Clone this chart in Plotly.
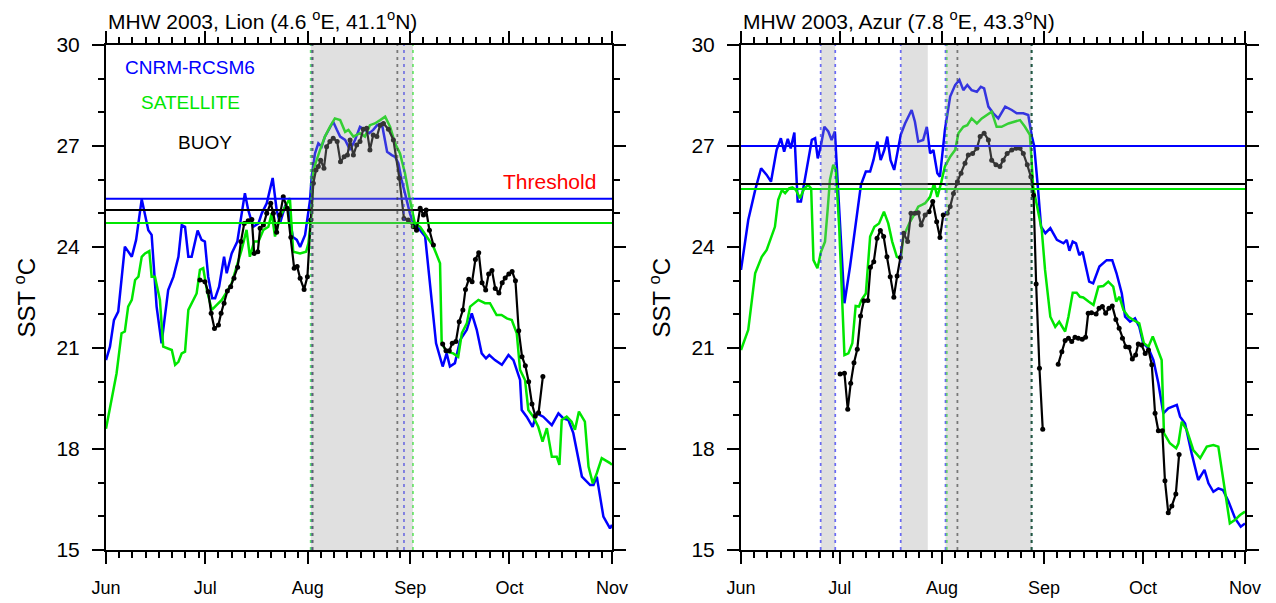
import plotly.graph_objects as go
from plotly.subplots import make_subplots

# x axis: days since 1 June 2003
months = ["Jun", "Jul", "Aug", "Sep", "Oct", "Nov"]
month_start = [0, 30, 61, 92, 122, 153]
sst_ticks = [15, 18, 21, 24, 27, 30]

# ---- Lion (4.6E, 41.1N) ----
lion_model_day = [0, 1.2, 2.4, 3.7, 5.7, 7.8, 9.1, 10.8, 12.8, 13.8,
                  15.3, 16.8, 18.8, 20.4, 21.9, 22.9, 23.9, 24.9, 25.9, 27.7,
                  28.9, 29.9, 30.9, 32.1, 33.0, 34.2, 35.7, 36.5, 38.0, 39.7,
                  42.0, 43.0, 44.5, 46.1, 47.1, 48.6, 50.4, 51.6, 52.6, 54.1,
                  55.1, 56.5, 57.7, 58.7, 60.2, 61.7, 62.2, 63.2, 64.2, 65.2,
                  66.2, 67.7, 68.7, 69.8, 70.8, 72.3, 73.8, 75.3, 76.8, 78.3,
                  79.6, 80.8, 82.0, 83.4, 84.4, 85.0, 86.4, 87.4, 88.4, 89.4,
                  90.9, 91.9, 92.9, 95.0, 96.5, 98.0, 99.8, 101.8, 103.0, 104.0,
                  105.5, 107.1, 109.1, 110.6, 112.1, 113.6, 114.9, 115.9, 117.6, 119.7,
                  121.7, 123.2, 125.2, 125.7, 127.2, 129.0, 130.2, 132.2, 134.8, 136.8,
                  138.3, 139.8, 141.3, 143.9, 146.4, 147.4, 148.4, 150.4, 152.4, 153]
lion_model_sst = [20.64, 21.04, 21.83, 22.08, 24.01, 23.71, 24.21, 25.42, 24.5, 24.36,
                  22.23, 21.14, 22.72, 23.12, 23.71, 24.65, 24.6, 23.71, 23.71, 24.49,
                  24.21, 24.16, 23.12, 22.48, 22.48, 22.82, 23.71, 23.22, 23.81, 24.16,
                  25.6, 25.1, 24.6, 24.7, 25.0, 25.3, 26.05, 25.1, 24.7, 25.2,
                  25.1, 24.3, 24.21, 24.0, 24.36, 25.4, 26.1, 26.78, 27.08, 26.98,
                  27.28, 27.57, 27.72, 27.48, 27.28, 27.18, 26.88, 27.18, 27.57, 27.48,
                  27.38, 27.48, 27.62, 27.67, 27.18, 26.83, 26.73, 26.68, 26.49, 25.99,
                  25.4, 25.0, 24.7, 24.5, 24.31, 22.92, 21.14, 20.45, 20.84, 20.45,
                  20.55, 21.24, 21.54, 22.03, 21.54, 20.84, 20.69, 20.79, 20.64, 20.5,
                  20.79, 20.64, 20.05, 19.16, 18.96, 18.66, 19.06, 18.96, 18.71, 19.06,
                  18.91, 18.86, 18.47, 17.18, 16.93, 16.93, 17.18, 15.99, 15.64, 15.75]

lion_sat_day = [0, 1.8, 3.2, 4.7, 5.7, 6.7, 7.8, 8.8, 9.8, 10.8,
                11.8, 13.1, 13.8, 14.8, 16.3, 17.3, 18.8, 19.9, 20.9, 21.9,
                22.9, 23.9, 24.9, 25.9, 27.4, 28.4, 29.4, 30.5, 32.0, 33.5,
                35.0, 36.5, 38.0, 39.5, 41.0, 42.5, 43.5, 44.8, 46.1, 47.6,
                49.1, 50.1, 51.1, 52.6, 54.1, 55.6, 56.6, 58.7, 60.5, 61.2,
                62.2, 62.7, 64.7, 66.2, 67.7, 69.2, 70.8, 72.3, 73.3, 74.8,
                76.8, 78.3, 79.8, 81.3, 82.9, 84.4, 85.9, 87.4, 88.9, 90.4,
                91.9, 93.4, 95.0, 97.0, 99.0, 101.0, 101.5, 103.0, 105.0, 106.5,
                107.6, 109.1, 110.1, 112.6, 114.6, 116.1, 118.1, 119.6, 121.2, 122.7,
                124.2, 125.2, 126.7, 127.7, 129.2, 130.7, 132.0, 133.3, 134.8, 136.3,
                137.1, 137.8, 139.3, 140.8, 141.8, 143.0, 144.8, 145.9, 147.2, 148.4,
                149.9, 152.4, 153]
lion_sat_sst = [18.6, 19.5, 20.25, 21.44, 21.49, 22.23, 22.43, 23.02, 23.12, 23.71,
                23.81, 23.88, 23.12, 23.12, 22.43, 21.04, 20.99, 20.94, 20.5, 20.59,
                20.84, 20.89, 22.13, 22.33, 22.62, 23.32, 23.37, 22.72, 22.13, 22.28,
                22.43, 22.67, 22.92, 23.42, 23.91, 24.51, 23.71, 24.16, 24.16, 24.51,
                24.6, 25.0, 24.31, 24.9, 25.2, 25.45, 23.86, 23.81, 23.86, 24.11,
                25.0, 26.29, 26.88, 27.28, 27.57, 27.82, 27.77, 27.42, 27.48, 27.28,
                27.38, 27.28, 27.62, 27.67, 27.77, 27.87, 27.57, 27.08, 26.78, 26.19,
                25.4, 24.7, 24.6, 24.31, 24.01, 23.52, 21.14, 20.89, 20.84, 20.74,
                21.44, 21.73, 22.23, 22.43, 22.33, 22.33, 21.98, 21.98, 21.88, 21.83,
                21.44, 20.35, 20.05, 19.16, 18.96, 18.66, 18.22, 18.62, 17.77, 17.77,
                17.53, 18.86, 18.96, 18.81, 18.57, 19.11, 18.81, 17.48, 16.98, 17.28,
                17.73, 17.58, 17.53]

lion_buoy_day = [28.4, 29.9, 30.9, 31.8, 32.8, 34.0, 34.8, 35.7, 36.7, 37.7,
                 38.7, 39.8, 40.8, 41.8, 43.0, 44.1, 44.8, 45.9, 46.6, 47.6,
                 48.6, 49.8, 50.6, 51.6, 52.6, 53.6, 54.8, 55.9, 56.9, 57.8,
                 58.7, 59.9, 60.9, 61.9, 62.7, 63.5, 64.2, 64.9, 65.9, 66.7,
                 67.7, 68.7, 69.9, 70.9, 72.0, 73.0, 73.8, 74.8, 75.8, 76.8,
                 77.8, 78.8, 79.8, 80.8, 81.9, 82.9, 83.9, 85.4, 86.9, 88.7,
                 90.1, 91.4, 92.9, 93.9, 95.0, 96.0, 96.8, 97.8, 99.0, 100.4,
                 101.8, 102.8, 103.8, 104.7, 105.8, 106.8, 107.9, 108.7, 109.7, 110.7,
                 111.7, 112.7, 113.7, 114.8, 115.7, 116.7, 117.7, 118.8, 119.8, 120.7,
                 121.8, 122.8, 123.8, 124.8, 125.8, 126.8, 127.8, 128.8, 129.8, 130.8,
                 132.1]
lion_buoy_sst = [23.02, 22.97, 22.67, 22.03, 21.58, 21.68, 22.03, 22.33, 22.69, 22.82,
                 23.07, 23.40, 24.16, 24.70, 24.78, 24.82, 23.81, 23.86, 24.56, 24.65,
                 25.0, 25.30, 25.0, 24.44, 24.95, 25.49, 25.15, 24.29, 23.37, 23.42,
                 23.07, 22.74, 23.12, 24.80, 25.89, 26.29, 26.39, 26.58, 26.34, 26.98,
                 27.13, 27.23, 27.13, 26.53, 26.68, 26.73, 27.18, 26.73, 27.03, 27.13,
                 27.50, 27.53, 26.88, 27.33, 27.28, 27.62, 27.67, 27.5, 27.18, 26.04,
                 24.85, 24.80, 24.6, 24.5, 25.15, 24.95, 25.1, 24.5, 24.06, None,
                 21.12, 20.92, 20.92, 21.14, 21.19, 21.78, 22.13, 22.74, 23.04, 22.97,
                 23.63, 23.83, 22.94, 22.72, 23.2, 23.3, 22.77, 22.63, 22.94, 23.08,
                 23.2, 23.27, 23.0, 21.51, 20.74, 20.47, 20.0, 19.34, 18.98, 19.08,
                 20.15]

lion_threshold = {"model": 25.43, "sat": 24.71, "buoy": 25.10}
# heat-wave event edges (days) and shaded periods
lion_lines = {"sat": [61.9, 92.8], "buoy": [62.5, 88.1], "model": [62.2, 90.1]}
lion_shade = [(61.9, 92.8)]

# ---- Azur (7.8E, 43.3N) ----
azur_model_day = [0, 2.2, 4.3, 6.1, 7.8, 9.1, 10.8, 12.1, 13.1, 14.2,
                  15.1, 16.2, 17.2, 18.2, 19.9, 21.5, 22.5, 23.3, 24.3, 25.3,
                  26.5, 27.5, 28.5, 29.5, 31.4, 33.1, 34.6, 36.4, 37.9, 39.2,
                  40.2, 41.4, 42.4, 43.5, 44.4, 45.4, 46.5, 47.8, 48.5, 49.8,
                  51.8, 52.8, 53.8, 55.3, 56.4, 57.4, 58.4, 59.6, 60.4, 61.9,
                  63.5, 65.0, 66.3, 67.5, 68.7, 70.0, 71.6, 72.8, 73.8, 75.1,
                  76.6, 78.1, 80.2, 82.2, 83.7, 85.7, 87.2, 88.3, 89.0, 90.1,
                  91.1, 92.4, 93.9, 95.9, 97.9, 98.9, 99.7, 100.7, 101.7, 102.7,
                  103.7, 105.7, 106.9, 108.8, 111.0, 112.7, 114.0, 115.6, 116.6, 118.1,
                  119.6, 120.9, 122.1, 123.7, 125.2, 126.7, 128.2, 129.7, 131.2, 132.3,
                  133.3, 134.8, 136.8, 138.8, 140.7, 141.9, 143.4, 144.9, 146.3, 148.0,
                  150.0, 151.7, 153]
azur_model_sst = [23.32, 24.8, 25.69, 26.34, 26.14, 25.94, 26.88, 27.23, 26.83, 27.21,
                  26.93, 27.40, 25.35, 25.35, 26.29, 27.18, 27.23, 26.63, 27.03, 27.57,
                  27.43, 27.18, 27.43, 25.6, 22.33, 23.42, 24.6, 25.84, 26.24, 26.24,
                  26.58, 27.13, 26.58, 26.88, 27.28, 26.58, 26.29, 26.98, 27.33, 27.67,
                  28.07, 27.72, 27.13, 27.18, 27.57, 26.78, 26.88, 26.19, 26.09, 27.48,
                  28.47, 28.81, 28.96, 28.66, 28.81, 28.66, 28.61, 28.76, 28.71, 28.17,
                  27.97, 27.82, 28.17, 28.07, 27.97, 27.97, 27.92, 27.28, 27.0, 25.8,
                  24.6, 24.41, 24.56, 24.21, 24.11, 24.21, 23.89, 24.16, 24.11, 23.76,
                  23.86, 22.97, 22.92, 23.42, 23.61, 23.61, 23.22, 22.62, 21.93, 21.78,
                  21.88, 21.63, 21.14, 20.99, 20.64, 19.95, 19.06, 19.21, 19.26, 19.31,
                  18.96, 18.76, 17.87, 17.08, 17.38, 16.98, 16.73, 16.83, 16.78, 16.44,
                  15.94, 15.69, 15.79]

azur_sat_day = [0, 2.2, 4.3, 6.3, 7.8, 8.8, 10.3, 11.3, 12.4, 13.4,
                14.6, 15.6, 16.7, 17.9, 19.2, 20.4, 21.3, 22.0, 23.2, 24.3,
                25.5, 26.3, 27.0, 28.0, 28.8, 29.8, 30.8, 31.4, 32.6, 33.8,
                34.8, 35.8, 36.6, 37.9, 39.2, 40.5, 41.9, 43.4, 44.7, 45.9,
                47.3, 48.5, 49.3, 51.3, 52.8, 53.8, 54.9, 55.9, 57.4, 58.6,
                59.6, 60.6, 61.9, 63.5, 65.0, 66.0, 67.5, 68.7, 70.0, 71.6,
                73.1, 74.6, 76.1, 77.6, 79.1, 81.2, 83.2, 84.7, 86.2, 87.7,
                88.7, 89.8, 91.3, 92.3, 93.9, 95.4, 96.6, 98.4, 99.4, 100.7,
                101.9, 102.9, 103.9, 105.5, 107.0, 108.5, 110.0, 111.5, 113.0, 113.9,
                114.9, 116.1, 117.6, 119.1, 120.9, 122.3, 123.7, 125.0, 126.2, 127.7,
                128.4, 130.2, 132.1, 132.8, 133.8, 135.3, 137.3, 139.4, 141.4, 143.4,
                144.9, 146.4, 148.4, 149.9, 151.5, 153]
azur_sat_sst = [20.94, 21.54, 23.22, 23.71, 23.91, 24.21, 24.6, 25.4, 25.69, 25.6,
                25.74, 25.77, 25.69, 25.45, 25.74, 25.84, 25.74, 23.61, 23.37, 23.86,
                24.16, 25.1, 25.99, 26.44, 26.29, 24.6, 22.33, 20.79, 20.84, 21.14,
                22.25, 22.23, 22.43, 22.62, 24.31, 24.6, 24.7, 25.05, 24.7, 24.16,
                23.71, 23.66, 24.31, 24.75, 25.0, 25.2, 25.25, 25.30, 25.49, 25.89,
                25.49, 25.84, 26.39, 26.68, 26.88, 27.38, 27.57, 27.62, 27.82, 27.67,
                27.82, 27.92, 28.02, 27.57, 27.57, 27.67, 27.72, 27.77, 27.57, 27.33,
                25.79, 25.20, 24.51, 23.32, 21.93, 21.63, 21.78, 21.49, 21.93, 22.64,
                22.64, 22.52, 22.50, 22.38, 22.28, 22.82, 22.84, 22.97, 22.82, 22.38,
                22.52, 22.13, 21.93, 21.83, 21.73, 21.14, 21.04, 21.34, 21.04, 20.64,
                18.47, 18.17, 18.02, 18.17, 18.81, 18.57, 17.97, 17.73, 18.07, 18.12,
                18.07, 17.08, 15.79, 15.89, 16.04, 16.14]

azur_buoy_day = [30.1, 31.4, 32.4, 33.3, 34.3, 35.3, 36.3, 37.3, 38.5, 39.3,
                 40.3, 41.3, 42.3, 43.3, 44.3, 45.3, 46.4, 47.4, 48.4, 49.4,
                 50.6, 51.6, 52.8, 53.8, 54.7, 55.9, 57.1, 58.2, 59.4, 60.4,
                 61.4, 62.6, 63.5, 64.5, 65.7, 66.8, 68.0, 69.0, 70.3, 71.6,
                 72.6, 73.8, 75.1, 76.1, 77.4, 78.6, 79.6, 80.8, 82.2, 83.5,
                 84.7, 85.7, 86.9, 88.0, 88.8, 89.6, 90.6, 91.6, 94.0, 96.3,
                 97.4, 98.4, 99.4, 100.4, 101.4, 102.4, 103.6, 104.6, 105.4, 106.4,
                 107.8, 108.7, 109.7, 110.7, 111.7, 112.7, 113.8, 114.8, 115.8, 116.8,
                 117.8, 118.8, 119.8, 120.6, 121.6, 122.7, 123.7, 124.7, 125.7, 126.7,
                 127.9, 128.7, 129.7, 130.8, 132.0, 133.0]
azur_buoy_sst = [20.23, 20.25, 19.18, 19.95, 20.56, 20.96, 21.95, 22.40, 22.41, 23.40,
                 23.56, 24.26, 24.49, 24.31, 23.71, 23.12, 22.51, 23.14, 23.69, 24.41,
                 24.16, 25.0, 25.0, 25.02, 24.65, 24.95, 25.05, 25.35, 24.75, 24.28,
                 24.95, 25.0, 25.2, 25.59, 25.94, 26.19, 26.49, 26.73, 26.78, 26.93,
                 27.28, 27.38, 27.18, 26.58, 26.44, 26.39, 26.58, 26.78, 26.88, 26.93,
                 26.93, 26.78, 26.44, 26.09, 25.54, 22.90, 20.40, 18.59, None, 20.52,
                 20.89, 21.22, 21.29, 21.19, 21.32, 21.29, 21.26, 21.32, 22.03, 22.05,
                 22.01, 22.18, 22.23, 22.03, 22.18, 22.25, 21.85, 21.59, 21.29, 21.04,
                 21.02, 20.67, 20.79, 21.12, 21.09, 20.84, 20.94, 20.50, 19.06, 18.54,
                 18.54, 17.06, 16.11, 16.31, 16.66, 17.84]

azur_threshold = {"model": 27.0, "sat": 25.72, "buoy": 25.87}
azur_lines = {"model": [24.2, 28.6, 48.5, 62.1, 88.2], "sat": [62.5, 88.2], "buoy": [65.7, 88.2]}
azur_shade = [(24.2, 28.6), (48.5, 56.7), (62.1, 88.2)]

colors = {"model": "#0000ff", "sat": "#00e600", "buoy": "#000000"}
FONT = "Liberation Sans, Arial, sans-serif"

fig = make_subplots(rows=1, cols=2)

panels = [
    (1, "MHW 2003, Lion (4.6 <sup>o</sup>E, 41.1<sup>o</sup>N)",
     lion_model_day, lion_model_sst, lion_sat_day, lion_sat_sst, lion_buoy_day, lion_buoy_sst,
     lion_threshold, lion_lines, lion_shade),
    (2, "MHW 2003, Azur (7.8 <sup>o</sup>E, 43.3<sup>o</sup>N)",
     azur_model_day, azur_model_sst, azur_sat_day, azur_sat_sst, azur_buoy_day, azur_buoy_sst,
     azur_threshold, azur_lines, azur_shade),
]

shapes = []
annotations = []
for col, title, md, ms, sd, ss, bd, bs, thr, lines, shade in panels:
    xr = "x" if col == 1 else "x2"
    yr = "y" if col == 1 else "y2"
    fig.add_trace(go.Scatter(x=md, y=ms, mode="lines", line=dict(color=colors["model"], width=2.5)), row=1, col=col)
    fig.add_trace(go.Scatter(x=sd, y=ss, mode="lines", line=dict(color=colors["sat"], width=2.5)), row=1, col=col)
    fig.add_trace(go.Scatter(x=bd, y=bs, mode="lines+markers", connectgaps=False,
                             line=dict(color=colors["buoy"], width=2.2),
                             marker=dict(color=colors["buoy"], size=5)), row=1, col=col)
    for key in ["model", "buoy", "sat"]:
        fig.add_trace(go.Scatter(x=[0, 153], y=[thr[key], thr[key]], mode="lines",
                                 line=dict(color=colors[key], width=2)), row=1, col=col)
    # event edges (dotted), then translucent shading on top
    for key in ["model", "sat", "buoy"]:
        for d in lines[key]:
            shapes.append(dict(type="line", xref=xr, yref=yr, x0=d, x1=d, y0=15, y1=30, opacity=0.6,
                               line=dict(color=colors[key], width=1.8, dash="3px,4px"), layer="above"))
    for a, b in shade:
        shapes.append(dict(type="rect", xref=xr, yref=yr, x0=a, x1=b, y0=15, y1=30,
                           fillcolor="rgba(160,160,160,0.33)", line=dict(width=0), layer="above"))
    annotations.append(dict(text=title, xref=xr + " domain", yref=yr + " domain", x=0, y=1,
                            xanchor="left", yanchor="bottom", yshift=10, showarrow=False,
                            font=dict(size=21, family=FONT, color="black")))
    annotations.append(dict(text="SST <sup>o</sup>C", xref=xr + " domain", yref=yr + " domain",
                            x=0, y=0.5, xanchor="center", yanchor="middle", xshift=-82,
                            textangle=-90, showarrow=False,
                            font=dict(size=24, family=FONT, color="black")))

# in-plot legend labels (left panel)
for txt, x, y, c, s in [("CNRM-RCSM6", 25.4, 29.32, colors["model"], 19),
                        ("SATELLITE", 25.4, 28.28, colors["sat"], 19),
                        ("BUOY", 29.9, 27.09, colors["buoy"], 19),
                        ("Threshold", 134.0, 25.96, "#ff0000", 21)]:
    annotations.append(dict(text=txt, xref="x", yref="y", x=x, y=y, showarrow=False,
                            font=dict(size=s, family=FONT, color=c)))

minor_days = [m + 4 * k for m in month_start[:-1] for k in range(1, 8)]

axis_common = dict(showline=True, linewidth=2, linecolor="black", mirror="ticks",
                   ticks="outside", ticklen=12, tickwidth=2, tickcolor="black",
                   showgrid=False, zeroline=False, automargin=False)
xax = dict(axis_common, range=[0, 153], tickmode="array", tickvals=month_start, ticktext=months,
           tickfont=dict(size=18, family=FONT, color="black"), ticklabelstandoff=8,
           minor=dict(tickmode="array", tickvals=minor_days, ticks="outside", ticklen=6,
                      tickwidth=1.5, tickcolor="black"))
yax = dict(axis_common, range=[15, 30], tickmode="array", tickvals=sst_ticks,
           tickfont=dict(size=21, family=FONT, color="black"), ticklabelstandoff=8,
           minor=dict(dtick=1, ticks="outside", ticklen=6, tickwidth=1.5, tickcolor="black"))

# the page adds an 8 px body margin, so the domains are set 8 px up/left of the target
fig.update_layout(
    width=1276, height=603, margin=dict(l=0, r=0, t=0, b=0, autoexpand=False),
    plot_bgcolor="white", paper_bgcolor="white", showlegend=False,
    font=dict(family=FONT, color="black"),
    xaxis=dict(xax, domain=[98 / 1276, 604 / 1276]),
    xaxis2=dict(xax, domain=[733 / 1276, 1237 / 1276]),
    yaxis=dict(yax, domain=[61 / 603, 566 / 603]),
    yaxis2=dict(yax, domain=[61 / 603, 566 / 603]),
    shapes=shapes, annotations=annotations,
)

fig.write_html("out.html")
